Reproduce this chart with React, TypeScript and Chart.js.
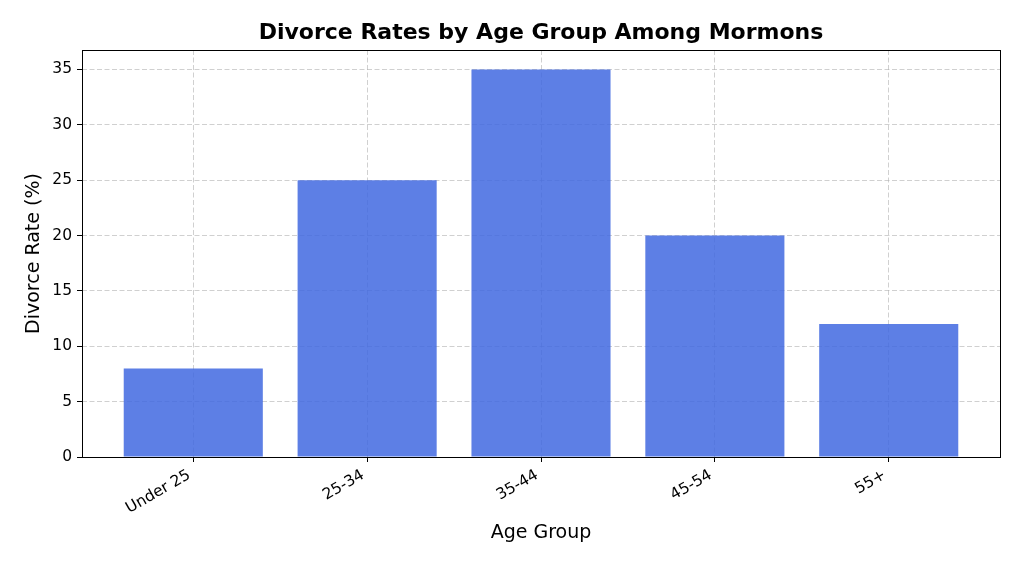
import React, { useEffect, useRef } from "react";
import { Chart, registerables } from "chart.js";

Chart.register(...registerables);

const categories: string[] = ["Under 25", "25-34", "35-44", "45-54", "55+"];
const divorceRates: number[] = [8, 25, 35, 20, 12];
const yTicks: number[] = [0, 5, 10, 15, 20, 25, 30, 35];
const chartTitle = "Divorce Rates by Age Group Among Mormons";

const FONT = "'DejaVu Sans', sans-serif";

const framePlugin = {
  id: "frame",
  afterDraw(chart: any) {
    const { ctx, chartArea } = chart;
    ctx.save();
    ctx.strokeStyle = "#000";
    ctx.lineWidth = 1;
    ctx.setLineDash([]);
    ctx.strokeRect(
      Math.round(chartArea.left) + 0.5,
      Math.round(chartArea.top) + 0.5,
      Math.round(chartArea.right - chartArea.left),
      Math.round(chartArea.bottom - chartArea.top)
    );
    ctx.fillStyle = "#000";
    ctx.font = `bold 22px ${FONT}`;
    ctx.textAlign = "center";
    ctx.textBaseline = "middle";
    ctx.fillText(chartTitle, (chartArea.left + chartArea.right) / 2, 33);
    ctx.restore();
  },
};

export default function App() {
  const ref = useRef<HTMLCanvasElement | null>(null);
  useEffect(() => {
    if (!ref.current) return;
    const chart = new Chart(ref.current, {
      type: "bar",
      data: {
        datasets: [
          {
            data: categories.map((c, i) => ({ x: i, y: divorceRates[i] })),
            backgroundColor: "rgba(65,105,225,0.85)",
            borderWidth: 0,
            barPercentage: 0.8,
            categoryPercentage: 1,
          },
        ],
      },
      options: {
        animation: false,
        responsive: true,
        maintainAspectRatio: false,
        layout: { padding: { left: 0, right: 24, top: 50, bottom: 0 } },
        plugins: {
          legend: { display: false },
          tooltip: { enabled: false },
          title: { display: false },
        },
        scales: {
          x: {
            type: "linear",
            min: -0.64,
            max: 4.64,
            offset: false,
            z: 1,
            afterFit: (s: any) => {
              s.height = 112;
            },
            afterBuildTicks: (s: any) => {
              s.ticks = categories.map((c, i) => ({ value: i }));
            },
            ticks: {
              autoSkip: false,
              maxRotation: 30,
              minRotation: 30,
              color: "#000",
              padding: 4,
              labelOffset: -4,
              font: { family: FONT, size: 15.5 },
              callback: (v: any) => {
                const n = Math.round(Number(v));
                return categories[n] !== undefined ? categories[n] : "";
              },
            },
            grid: {
              offset: false,
              color: "rgba(176,176,176,0.6)",
              lineWidth: 1,
              tickColor: "#000",
              tickLength: 5,
              tickBorderDash: [],
            } as any,
            border: { display: false, dash: [5, 2.5] },
            title: {
              display: true,
              text: "Age Group",
              color: "#000",
              font: { family: FONT, size: 19 },
              padding: { top: 0, bottom: 25 },
            },
          },
          y: {
            type: "linear",
            min: 0,
            max: 36.75,
            z: 1,
            afterFit: (s: any) => {
              s.width = 82;
            },
            afterBuildTicks: (s: any) => {
              s.ticks = yTicks.map((v) => ({ value: v }));
            },
            ticks: {
              color: "#000",
              padding: 5,
              font: { family: FONT, size: 15.5 },
            },
            grid: {
              color: "rgba(176,176,176,0.6)",
              lineWidth: 1,
              tickColor: "#000",
              tickLength: 5,
              tickBorderDash: [],
            } as any,
            border: { display: false, dash: [5, 2.5] },
            title: {
              display: true,
              text: "Divorce Rate (%)",
              color: "#000",
              font: { family: FONT, size: 19 },
              padding: { top: 23, bottom: 0 },
            },
          },
        },
      },
      plugins: [framePlugin],
    } as any);
    return () => chart.destroy();
  }, []);
  return (
    <div style={{ position: "fixed", left: 0, top: 0, width: 1024, height: 569, background: "#fff" }}>
      <canvas ref={ref} />
    </div>
  );
}
